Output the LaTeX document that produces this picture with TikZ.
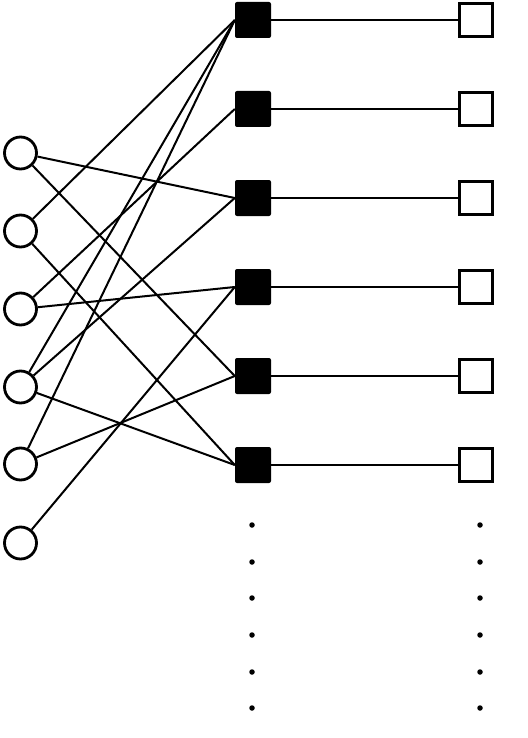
\documentclass[tikz,border=0pt]{standalone}
\begin{document}
\begin{tikzpicture}[x=1pt,y=-1pt,
  vnode/.style={circle,draw,line width=2.8pt,minimum size=32pt,inner sep=0pt},
  chk/.style={rectangle,fill=black,rounded corners=2pt,minimum size=36pt,inner sep=0pt},
  obs/.style={rectangle,draw,line width=2.5pt,fill=white,minimum size=33pt,inner sep=0pt},
  edge/.style={line width=2pt},
  vdot/.style={circle,fill=black,minimum size=5.5pt,inner sep=0pt}]
\useasboundingbox (0,0) rectangle (527,738);
% variable nodes (circles)
\foreach \i/\y in {1/153,2/231,3/309,4/387,5/464,6/543}
  \node[vnode] (c\i) at (20.5,\y) {};
% check nodes (black squares) and white squares
\foreach \i/\y in {1/20,2/109,3/198,4/287,5/376,6/465}{
  \node[chk] (s\i) at (253,\y) {};
  \node[obs] (w\i) at (476,\y) {};
}
% edges between circles and black squares
\draw[edge] (c1) -- (s3.west);
\draw[edge] (c1) -- (s5.west);
\draw[edge] (c2) -- (s1.west);
\draw[edge] (c2) -- (s6.west);
\draw[edge] (c3) -- (s2.west);
\draw[edge] (c3) -- (s4.west);
\draw[edge] (c4) -- (s1.west);
\draw[edge] (c4) -- (s3.west);
\draw[edge] (c4) -- (s6.west);
\draw[edge] (c5) -- (s1.west);
\draw[edge] (c5) -- (s5.west);
\draw[edge] (c6) -- (s4.west);
% horizontal connectors
\foreach \i in {1,...,6}
  \draw[edge] (s\i.east) -- (w\i.west);
% vertical dots
\foreach \j/\y in {1/525,2/562,3/598,4/635,5/672,6/708}{
  \node[vdot] (dl\j) at (252,\y) {};
  \node[vdot] (dr\j) at (480,\y) {};
}
\end{tikzpicture}
\end{document}
